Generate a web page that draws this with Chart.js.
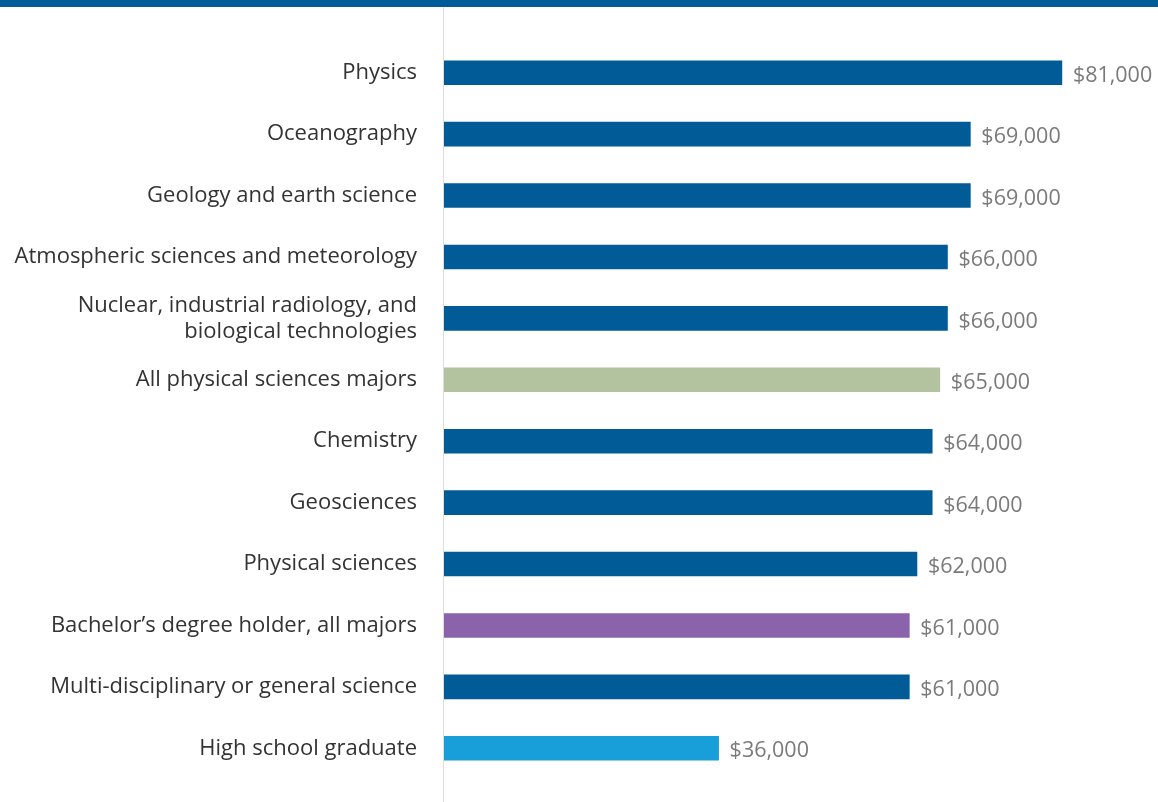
<!DOCTYPE html>
<html><head><meta charset="utf-8">
<script src="https://cdn.jsdelivr.net/npm/chart.js@4"></script>
<style>html,body{margin:0;padding:0;background:#fff;overflow:hidden;}canvas{display:block;}</style>
</head><body><canvas id="c" width="1158" height="802"></canvas>
<script>
const categories = [
  "Physics",
  "Oceanography",
  "Geology and earth science",
  "Atmospheric sciences and meteorology",
  ["Nuclear, industrial radiology, and", "biological technologies"],
  "All physical sciences majors",
  "Chemistry",
  "Geosciences",
  "Physical sciences",
  "Bachelor\u2019s degree holder, all majors",
  "Multi-disciplinary or general science",
  "High school graduate"
];
const salaries = [81000, 69000, 69000, 66000, 66000, 65000, 64000, 64000, 62000, 61000, 61000, 36000];
const barColors = ["#005b96","#005b96","#005b96","#005b96","#005b96","#b3c29f","#005b96","#005b96","#005b96","#8b63ab","#005b96","#189fd9"];
const FONT = "'Open Sans', sans-serif";

const decor = {
  id: 'decor',
  beforeDraw(chart) {
    const ctx = chart.ctx;
    ctx.save();
    ctx.fillStyle = '#005b96';
    ctx.fillRect(0, 0, chart.width, 7);
    ctx.strokeStyle = '#dddddd';
    ctx.lineWidth = 1;
    ctx.beginPath();
    ctx.moveTo(443.5, 7);
    ctx.lineTo(443.5, chart.height);
    ctx.stroke();
    ctx.restore();
  },
  afterDatasetsDraw(chart) {
    const ctx = chart.ctx;
    const meta = chart.getDatasetMeta(0);
    ctx.save();
    ctx.fillStyle = '#7a7a7a';
    ctx.font = "21.5px " + FONT;
    ctx.textAlign = 'left';
    ctx.textBaseline = 'middle';
    meta.data.forEach((bar, i) => {
      ctx.fillText('$' + salaries[i].toLocaleString('en-US'), bar.x + 11, bar.y + 3);
    });
    ctx.restore();
  }
};

new Chart(document.getElementById('c'), {
  type: 'bar',
  data: {
    labels: categories,
    datasets: [{ data: salaries, backgroundColor: barColors, barThickness: 24, borderWidth: 0 }]
  },
  options: {
    indexAxis: 'y',
    responsive: false,
    animation: false,
    layout: { padding: { top: 42, bottom: 23, left: 0, right: 0 } },
    plugins: { legend: { display: false }, tooltip: { enabled: false } },
    scales: {
      x: { display: false, min: 0, max: 93600 },
      y: {
        grid: { display: true, drawOnChartArea: false, drawTicks: true, tickLength: 27, color: 'rgba(0,0,0,0)' },
        border: { display: false },
        afterFit(scale) { scale.width = 444; },
        ticks: { color: '#333333', padding: 0, font: { family: FONT, size: 22, lineHeight: 1.18 }, autoSkip: false }
      }
    }
  },
  plugins: [decor]
});
</script></body></html>
